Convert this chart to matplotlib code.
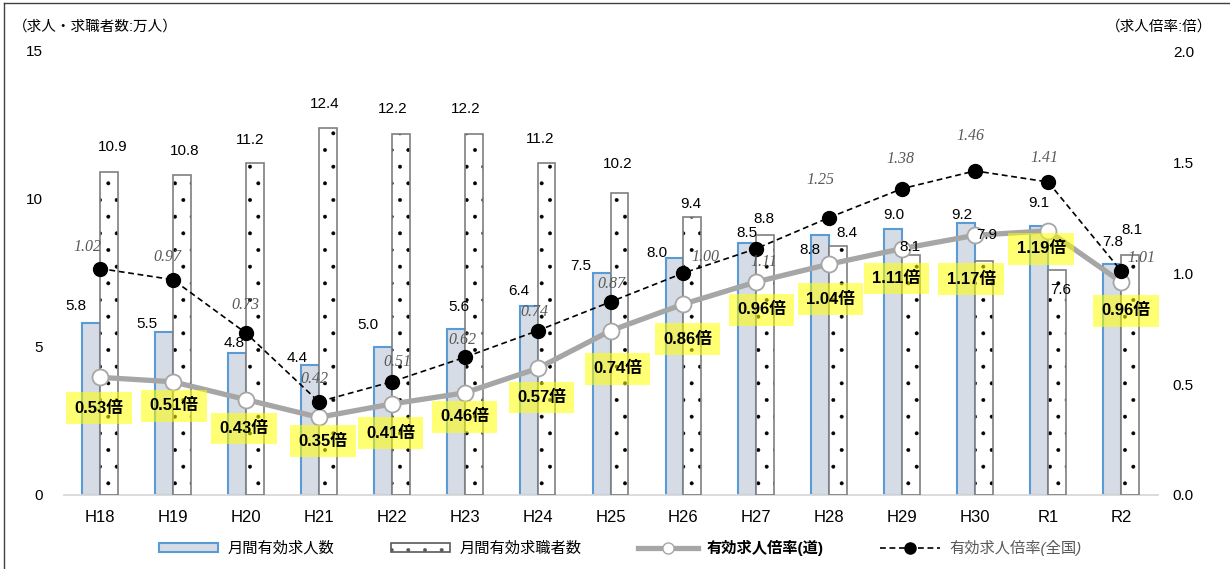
import numpy as np
import matplotlib
matplotlib.use("Agg")
import matplotlib.pyplot as plt
from matplotlib.lines import Line2D
from matplotlib.patches import Patch

# data
years = ['H18', 'H19', 'H20', 'H21', 'H22', 'H23', 'H24', 'H25',
         'H26', 'H27', 'H28', 'H29', 'H30', 'R1', 'R2']
job_offers = [5.8, 5.5, 4.8, 4.4, 5.0, 5.6, 6.4, 7.5, 8.0, 8.5, 8.8, 9.0, 9.2, 9.1, 7.8]
job_seekers = [10.9, 10.8, 11.2, 12.4, 12.2, 12.2, 11.2, 10.2, 9.4, 8.8, 8.4, 8.1, 7.9, 7.6, 8.1]
ratio_hokkaido = [0.53, 0.51, 0.43, 0.35, 0.41, 0.46, 0.57, 0.74, 0.86, 0.96, 1.04, 1.11, 1.17, 1.19, 0.96]
ratio_national = [1.02, 0.97, 0.73, 0.42, 0.51, 0.62, 0.74, 0.87, 1.00, 1.11, 1.25, 1.38, 1.46, 1.41, 1.01]

# label offsets in pixels (dx, dy up)
off_offers = [(-15, 17), (-17, 8), (-3, 10), (-13, 7), (-15, 22), (3, 22), (-10, 15), (-21, 7),
              (-18, 5), (0, 10), (-10, -15), (1, 14), (-4, 8), (0, 23), (1, 22)]
off_seekers = [(4, 25), (3, 24), (-5, 23), (-3, 24), (-8, 25), (-8, 25), (-6, 24), (-2, 29),
               (-2, 13), (-1, 16), (9, 13), (-1, 8), (3, 26), (4, -20), (2, 25)]
off_hok = [(-1, -31), (1, -24), (-2, -29), (4, -24), (-1, -29), (0, -24), (4, -29), (7, -38),
           (4, -35), (5, -28), (1, -35), (-6, -30), (-4, -44), (-7, -18), (5, -29)]
off_nat = [(-13, 22), (-6, 23), (0, 28), (-4, 23), (6, 20), (-2, 17), (-3, 19), (1, 18),
           (22, 16), (7, -13), (-9, 38), (-2, 30), (-5, 35), (-4, 24), (20, 13)]

plt.rcParams['font.family'] = ['Liberation Sans', 'Noto Sans CJK JP']
plt.rcParams['hatch.linewidth'] = 0.35

fig = plt.figure(figsize=(12.3, 5.69), dpi=100)
ax = fig.add_axes([63.5 / 1230, 74 / 569, 1094 / 1230, 444 / 569])
ax2 = ax.twinx()

x = np.arange(len(years))
w = 0.245
ax.bar(x - w / 2, job_offers, w, color='#d6dce5', edgecolor='#5b9bd5', linewidth=1.5, zorder=2)
# dotted bars: hatch in black, outline in grey
ax.bar(x + w / 2, job_seekers, w, color='white', edgecolor='black', linewidth=0, hatch='.', zorder=2)
ax.bar(x + w / 2, job_seekers, w, fill=False, edgecolor='#7f7f7f', linewidth=1.2, zorder=3)

ax.set_xlim(-0.5, len(years) - 0.5)
ax.set_ylim(0, 15)
ax.set_yticks([0, 5, 10, 15])
ax.set_xticks(x)
ax.set_xticklabels(years)
ax.tick_params(axis='x', length=0, pad=11, labelsize=12)
ax.tick_params(axis='y', length=0, pad=15, labelsize=11)
for s in ['top', 'left', 'right']:
    ax.spines[s].set_visible(False)
ax.spines['bottom'].set_color('#d9d9d9')
ax.spines['bottom'].set_linewidth(1.3)

ax2.plot(x, ratio_hokkaido, color='#a6a6a6', linewidth=3.8, marker='o', markersize=11.5,
         markerfacecolor='white', markeredgecolor='#a6a6a6', markeredgewidth=1.3, zorder=3)
ax2.plot(x, ratio_national, color='black', linewidth=1.2, linestyle=(0, (3.5, 2.2)), marker='o',
         markersize=10, markerfacecolor='black', markeredgecolor='black', zorder=5)

for i in range(len(years)):
    # bar values drawn on ax2 so they sit above the line markers
    ax2.annotate(f'{job_offers[i]:.1f}', (x[i] - w / 2, job_offers[i]), xycoords=ax.transData,
                 xytext=off_offers[i], textcoords='offset pixels', ha='center', va='center',
                 fontsize=11, zorder=6)
    ax2.annotate(f'{job_seekers[i]:.1f}', (x[i] + w / 2, job_seekers[i]), xycoords=ax.transData,
                 xytext=off_seekers[i], textcoords='offset pixels', ha='center', va='center',
                 fontsize=11, zorder=6)
    ax2.annotate(f'{ratio_hokkaido[i]:.2f}倍', (x[i], ratio_hokkaido[i]), xytext=off_hok[i],
                 textcoords='offset pixels', ha='center', va='center', fontsize=12,
                 fontweight='bold', zorder=4,
                 bbox=dict(boxstyle='square,pad=0.5', fc=(1, 1, 0, 0.55), ec='none'))
    ax2.annotate(f'{ratio_national[i]:.2f}', (x[i], ratio_national[i]), xytext=off_nat[i],
                 textcoords='offset pixels', ha='center', va='center', fontsize=11.5,
                 family='Liberation Serif', style='italic', color='#595959', zorder=6)

ax2.set_ylim(0, 2.0)
ax2.set_yticks([0, 0.5, 1.0, 1.5, 2.0])
ax2.set_yticklabels(['0.0', '0.5', '1.0', '1.5', '2.0'])
ax2.tick_params(axis='y', length=0, pad=11, labelsize=11)
for s in ax2.spines.values():
    s.set_visible(False)

fig.text(13 / 1230, 1 - 27 / 569, '（求人・求職者数:万人）', ha='left', va='center', fontsize=10.5)
fig.text(1212 / 1230, 1 - 27 / 569, '（求人倍率:倍）', ha='right', va='center', fontsize=10.5)

# legend
handles = [
    Patch(facecolor='#d6dce5', edgecolor='#5b9bd5', linewidth=1.5),
    Patch(facecolor='white', edgecolor='#595959', linewidth=1.2, hatch='.'),
    Line2D([], [], color='#a6a6a6', linewidth=3.8, marker='o', markersize=8,
           markerfacecolor='white', markeredgecolor='#a6a6a6'),
    Line2D([], [], color='black', linewidth=1.2, linestyle=(0, (3.5, 2.2)), marker='o',
           markersize=8, markerfacecolor='black'),
]
labels = ['月間有効求人数', '月間有効求職者数', '有効求人倍率(道)', '有効求人倍率(全国)']
leg = fig.legend(handles, labels, loc='center', bbox_to_anchor=(620 / 1230, 1 - 548 / 569),
                 ncol=4, frameon=False, fontsize=11, handlelength=3.9, handleheight=0.55,
                 columnspacing=3.7, handletextpad=0.6)
texts = leg.get_texts()
texts[2].set_fontweight('bold')
texts[3].set_color('#595959')
texts[3].set_fontstyle('italic')

# outer frame
fig.add_artist(Line2D([4 / 1230, 4 / 1230], [0, 1 - 3 / 569], color='#404040', linewidth=1))
fig.add_artist(Line2D([4 / 1230, 1], [1 - 3 / 569, 1 - 3 / 569], color='#404040', linewidth=1))

fig.savefig('out.png', dpi=100)
